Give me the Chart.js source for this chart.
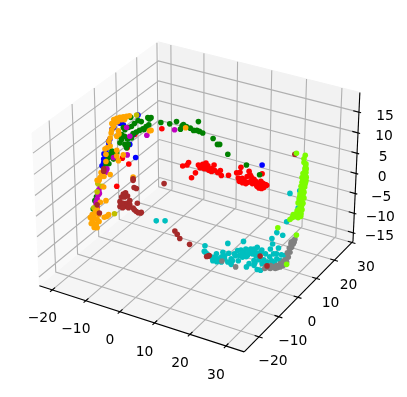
<!DOCTYPE html>
<html>
<head>
  <meta charset="UTF-8" />
  <title>3D scatter</title>
  <script src="https://cdn.jsdelivr.net/npm/chart.js"></script>
  <style>
    body { margin: 0; background: white; }
    canvas { display: block; }
  </style>
</head>
<body>
  <canvas id="chart" width="407" height="397"></canvas>

  <script>
    // axis limits and ticks
    const xLim = [-23.9, 35];
    const yLim = [-27.3, 30.6];
    const zLim = [-17.2, 19.7];
    const xTicks = [-20, -10, 0, 10, 20, 30];
    const yTicks = [-20, -10, 0, 10, 20, 30];
    const zTicks = [-15, -10, -5, 0, 5, 10, 15];

    // series in view-plane coordinates [u, v]
    const red = [[161,127.3],[263.3,173.3],[182.3,165.3],[186.7,164.3],[188.3,161.7],[198.3,164.3],[202.7,163.7],[205,166.7],[207.3,168.3],[211.7,171],[214.3,164.3],[215,170],[220.7,170],[221.7,175],[229,174.7],[195.3,172.3],[191.3,177.3],[200,165.7],[206,162.3],[209.3,170],[237.3,172.3],[241.7,166.7],[240.7,171.7],[239,177.7],[240,181],[243.3,182.3],[246.7,183.3],[250,170.7],[251,174.3],[253.3,178.3],[255,181.7],[257.3,184.3],[261.7,185],[266.7,184.3],[265,187.3],[260,187.7],[256.7,181],[259.3,183.3],[262.7,188.3],[253.3,183.3],[127.3,163.3],[125.7,146.7],[120.7,157.3],[133.3,133.3],[115,186],[258,183],[262,181],[264,186],[258,186],[255,179],[252,176],[248,176],[243,178],[245,180],[249,182],[252,181],[264,183],[268,185],[200,167],[204,168],[208,165],[212,168],[218,172]];
    const green = [[150,116],[160,121],[169,122.3],[176,120],[180,127.7],[181.7,124.3],[183,123],[186,125],[190,126.7],[193.3,129],[196.7,129],[199.3,130],[202.7,131.7],[198.3,120],[213.3,137.3],[217.7,143.3],[220,143.3],[228.3,153.3],[247.3,164.3],[260.7,174.3],[129.3,115.7],[121.7,126],[123.3,128.3],[136.7,119],[130,125],[146.7,116],[148.3,117.3],[147.7,123.3],[141.7,127.3],[138.3,129],[135,130.7],[131.7,132.3],[120,138.3],[118.3,141.7],[123.3,143.3],[126.7,143.3],[125,146.7],[110,150],[108.3,153.3],[106.7,156.7],[113.3,155],[111.7,158.3],[120,133.3],[130,136.7],[92.7,200.7],[91,209.3],[94.3,196.7],[126,138],[123,135],[119,136],[127,126],[133,122],[140,120],[143,128],[145,125],[105,160],[107,163],[112,152],[115,152],[104,164]];
    const blue = [[263.3,164.3],[136.7,113.3],[118.3,121.7],[121.7,123.3],[106.7,140],[108,138],[101.7,158.3],[105,156.7],[134.3,156.7],[100,165],[101.7,161.7],[128.3,143.3],[131.7,133.3],[114,119],[112,126],[119,117],[111,122],[110,128],[107,143],[104,150],[102,153]];
    const magenta = [[174,128.3],[125,126],[128.3,135],[145.7,134],[125.7,154],[111.7,156.7],[105,168.3],[104,171.7],[96.7,190],[97.3,193.3],[94,205],[98.3,186.7],[96,195],[95,199],[94,202],[95,208]];
    const olive = [[135.3,113.3],[95.7,183.3],[100,186],[95,191.7],[112.7,214],[91.7,208]];
    const orange = [[185.3,126.3],[150,129],[125,114.7],[121.7,115],[118.3,115.7],[115,116.7],[113.3,118.3],[112.7,121.7],[111.7,125],[110,128.3],[109.3,131.7],[116.7,129.3],[117.3,132.7],[115,135],[108.3,136.7],[148.3,129.3],[108.3,145],[105,146.7],[115,149.3],[104,153.3],[121.7,154],[116.7,160],[115,155],[104,160.7],[108.3,174],[100,175],[131.7,176.7],[101.7,186.7],[104,200.7],[98.3,202.3],[91.7,216.7],[90,220],[90.7,223.3],[93.3,226.7],[95,228.3],[90,215],[93.3,211.7],[95,210],[96.7,215],[95,220],[91.7,225],[102.3,217.7],[106.7,215],[105,216.7],[95,180],[98,177],[112,118],[116,120],[110,122],[120,118],[123,118],[128,114],[107,140],[103,148],[99,172],[102,176],[97,180],[88,218],[89,224],[92,228],[94,225],[97,222]];
    const cyan = [[155.3,221.3],[164.3,221.3],[205,246.7],[204.3,252.3],[228.3,244.3],[244.3,242.3],[211.7,258.3],[216.7,255],[223.3,253.3],[229.3,254.3],[218.3,260],[225,260],[231.7,260],[235,255],[240,256.7],[241.7,251],[245,253.3],[250,251.7],[255,250],[258.3,248.3],[261.7,253.3],[253.3,255],[248.3,256.7],[266.7,255],[271.7,250],[273.3,239.3],[278.3,233.3],[284.3,236],[280,249],[275,255],[268.3,263.3],[255,261.7],[247.3,268.3],[255,266.7],[258.3,271],[228.3,263.3],[231.7,265.7],[278.3,260],[281.7,261.7],[286.7,256.7],[263.3,265],[261.7,271.7],[243.3,258.3],[251.7,250],[246.7,250],[260,256.7],[238.3,251.7],[215,258.3],[221.7,263.3],[256.7,253.3],[291.7,193.3],[301.7,190.7],[300,208.3],[288.3,222.3],[274,245],[243,254],[247,258],[250,254],[253,252],[257,257],[263,251],[236,257],[233,262],[239,262],[213,262],[217,263],[225,257],[222,258],[256,264],[260,261],[250,265],[265,261],[271,258],[273,262],[278,255],[283,256],[276,264],[205,253],[207,255]];
    const gray = [[222.3,262.3],[236.3,268.3],[266,270],[271.7,270],[276.7,270],[281.7,268.3],[285,266.7],[288.3,263.3],[290,258.3],[291.7,253.3],[293.3,248.3],[294,245],[295,241.7],[292.7,245],[285,262.3],[275,268.3],[270,269],[296.7,240],[279,269],[293,243],[295,245],[291,249],[289,254],[287,261],[282,265],[278,267],[272,267],[267,268],[296,243]];
    const brown = [[163.3,183.3],[101.7,168.3],[101.7,170.7],[131.7,178.3],[131.7,180],[135,188.3],[132.7,187.3],[121.7,194],[124,192.7],[126,196],[118.3,201.7],[121.7,203.3],[125,203.3],[118.3,206.7],[123.3,206.7],[128.3,205],[131.7,208.3],[135,211.7],[139.3,213.3],[136,203.3],[128.3,200.7],[95,205],[97.3,213.3],[140,212.7],[174.3,231.7],[176.7,235],[179.3,239.3],[189.3,245.3],[208.3,257.3],[209.3,256.7],[206.7,257.7],[261.3,257.3],[268.3,267.3],[296.7,153.3],[120,197],[123,197],[120,204],[127,208],[133,210],[137,213],[121,208]];
    const lime = [[279.3,228.3],[298.3,235.7],[288.3,265.7],[298.3,152.3],[307.3,154.3],[306,161.7],[307.7,165],[308.3,168.3],[306.7,171.7],[306,175],[306.7,178.3],[306,183.3],[306.7,186.7],[305,190],[301.7,196.7],[303.3,200],[305,195],[305,203.3],[303.3,208.3],[301.7,213.3],[298.3,216.7],[295,215],[302.7,216.7],[291.7,220],[307.7,181.7],[308.3,176.7],[304,193.3],[304,205],[300,215],[305,185],[305,180],[307.3,170],[306,158],[308,163],[307,168],[305,173],[308,172],[304,177],[307,175],[304,182],[308,180],[303,186],[307,184],[303,190],[306,192],[302,194],[306,198],[301,199],[304,202],[300,203],[303,206],[301,209],[304,210],[299,211],[296,217],[294,218],[300,218],[303,214],[298,214]];

    // matplotlib style perspective, elev 30, azim -60, box 4:4:3
    const box = [1.19049, 1.19049, 0.89287];
    const dist = 10;
    const right = [0.866, 0.5, 0];
    const up = [-0.25, 0.433, 0.866];
    const toEye = [0.433, -0.75, 0.5];
    const scaleU = 201, scaleV = 199, centerU = 199, centerV = 189.2;

    function dot(a, b) { return a[0] * b[0] + a[1] * b[1] + a[2] * b[2]; }

    function project(x, y, z) {
      const p = [
        ((x - xLim[0]) / (xLim[1] - xLim[0]) - 0.5) * box[0],
        ((y - yLim[0]) / (yLim[1] - yLim[0]) - 0.5) * box[1],
        ((z - zLim[0]) / (zLim[1] - zLim[0]) - 0.5) * box[2]
      ];
      const k = dist / (dist - dot(p, toEye));
      return { x: centerU + scaleU * dot(p, right) * k, y: centerV - scaleV * dot(p, up) * k };
    }

    const [x0, x1] = xLim, [y0, y1] = yLim, [z0, z1] = zLim;

    const frameLines = [];
    function addLine(points, color, width, fill) {
      frameLines.push({
        type: 'scatter',
        showLine: true,
        data: points.map(p => project(p[0], p[1], p[2])),
        borderColor: color,
        backgroundColor: fill || color,
        borderWidth: width,
        pointRadius: 0,
        fill: fill ? 'shape' : false,
        tension: 0
      });
    }

    // axis lines and tick marks
    addLine([[x0, y0, z0], [x1, y0, z0]], '#000', 1.1);
    addLine([[x1, y0, z0], [x1, y1, z0]], '#000', 1.1);
    addLine([[x1, y1, z0], [x1, y1, z1]], '#000', 1.1);
    xTicks.forEach(t => addLine([[t, y0 - 1, z0], [t, y0 + 1.2, z0]], '#000', 1.1));
    yTicks.forEach(t => addLine([[x1 + 1, t, z0], [x1 - 1.2, t, z0]], '#000', 1.1));
    zTicks.forEach(t => addLine([[x1 + 0.6, y1, t], [x1 - 1.6, y1, t]], '#000', 1.1));

    // grid
    const gridColor = '#b0b0b0';
    xTicks.forEach(t => addLine([[t, y0, z0], [t, y1, z0], [t, y1, z1]], gridColor, 1.1));
    yTicks.forEach(t => addLine([[x1, t, z0], [x0, t, z0], [x0, t, z1]], gridColor, 1.1));
    zTicks.forEach(t => addLine([[x0, y0, t], [x0, y1, t], [x1, y1, t]], gridColor, 1.1));

    // panes
    addLine([[x0, y0, z0], [x0, y1, z0], [x0, y1, z1], [x0, y0, z1], [x0, y0, z0]], '#f9f9f9', 1, '#f9f9f9');
    addLine([[x0, y1, z0], [x1, y1, z0], [x1, y1, z1], [x0, y1, z1], [x0, y1, z0]], '#f2f2f2', 1, '#f2f2f2');
    addLine([[x0, y0, z0], [x1, y0, z0], [x1, y1, z0], [x0, y1, z0], [x0, y0, z0]], '#f5f5f5', 1, '#f5f5f5');

    function series(points, color) {
      return {
        data: points.map(p => ({ x: p[0], y: p[1] })),
        backgroundColor: color,
        borderWidth: 0,
        pointRadius: 2.8
      };
    }

    // tick labels, placed next to their tick on the 3D axes
    const tickLabels = {
      id: 'tickLabels',
      afterDraw(chart) {
        const { ctx, scales } = chart;
        ctx.save();
        ctx.font = '13.89px "DejaVu Sans"';
        ctx.fillStyle = '#000';
        ctx.textAlign = 'center';
        ctx.textBaseline = 'middle';
        const put = (t, pos, dx, dy) => {
          const px = scales.x.getPixelForValue(pos.x) + dx;
          const py = scales.y.getPixelForValue(pos.y) + dy;
          ctx.fillText(String(t).replace('-', '\u2212'), px, py);
        };
        xTicks.forEach(t => put(t, project(t, y0, z0), -10, 29));
        yTicks.forEach(t => put(t, project(x1, t, z0), 14, 25));
        zTicks.forEach(t => put(t, project(x1, y1, t), 26, 4));
        ctx.restore();
      }
    };

    new Chart(document.getElementById('chart').getContext('2d'), {
      type: 'scatter',
      data: {
        datasets: [
          series(lime, '#7cfc00'),
          series(brown, '#a52a2a'),
          series(gray, '#808080'),
          series(cyan, '#00bfbf'),
          series(orange, '#ffa500'),
          series(olive, '#bfbf00'),
          series(magenta, '#bf00bf'),
          series(green, '#008000'),
          series(blue, '#0000ff'),
          series(red, '#ff0000'),
          ...frameLines
        ]
      },
      options: {
        responsive: false,
        animation: false,
        layout: { padding: 0 },
        plugins: { legend: { display: false }, tooltip: { enabled: false } },
        scales: {
          x: { type: 'linear', min: 0, max: 407, display: false },
          y: { type: 'linear', min: 0, max: 397, reverse: true, display: false }
        }
      },
      plugins: [tickLabels]
    });
  </script>
</body>
</html>
